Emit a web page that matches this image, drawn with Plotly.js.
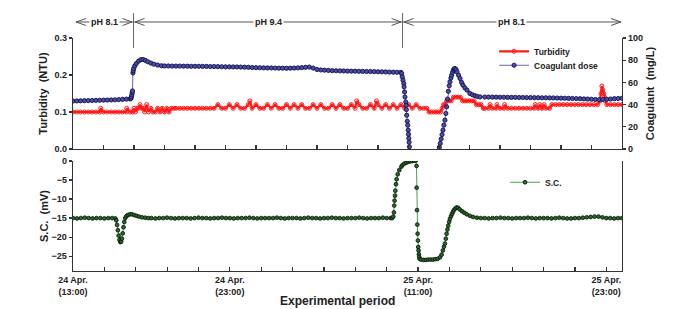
<!DOCTYPE html>
<html><head><meta charset="utf-8">
<script src="https://cdn.plot.ly/plotly-3.0.1.min.js"></script>
<style>html,body{margin:0;padding:0;background:#fff}#chart{width:684px;height:309px}</style>
</head><body><div id="chart"></div>
<script>
// ---- Data (hours since 24 Apr 13:00) ----
// Upper panel time base
const turbTime = [0,0.25,0.5,0.75,1,1.25,1.5,1.75,1.82,2,2.25,2.5,2.75,3,3.25,3.5,3.52,3.75,
  3.9,4.0,4.1,4.2,4.3,4.4,4.5,4.6,4.7,4.83,4.95,5.1,5.25,5.4,5.55,5.7,5.85,6.0,6.15,6.3,6.45,6.6,
  6.75,7,7.25,7.5,7.75,8,8.25,8.5,8.75,9,9.25,
  9.5,9.75,10,10.25,10.5,10.75,11,11.25,11.5,11.6,11.75,12,12.25,12.5,12.75,13,13.25,13.5,13.75,14,14.25,14.5,14.75,15,15.25,15.5,15.75,16,16.25,16.5,16.75,17,17.25,17.5,17.75,18,18.25,18.5,18.6,18.75,19,19.25,19.5,19.75,19.9,20,20.25,20.5,20.75,21,21.25,21.5,21.75,22,22.25,22.5,22.75,23,23.2,
  23.35,23.5,23.65,23.8,23.95,24.1,24.2,24.3,24.4,24.5,24.65,24.8,24.95,25.1,25.25,25.4,25.55,25.7,25.85,26,26.15,26.3,26.45,26.6,26.75,26.9,
  27,27.25,27.35,27.5,27.75,27.8,28,28.25,28.3,28.5,28.75,29,29.25,29.5,29.75,30,30.25,30.3,30.5,30.6,30.75,30.9,31,31.25,
  31.4,31.65,31.9,32.15,32.4,32.65,32.9,33.15,33.4,33.65,33.9,34.15,34.4,34.55,34.62,34.68,34.74,34.8,34.85,34.9,35,35.25,35.5,35.75,36];
const turbidity = [0.10,0.10,0.10,0.10,0.10,0.10,0.10,0.10,0.11,0.10,0.10,0.10,0.10,0.10,0.10,0.10,0.11,0.10,
  0.10,0.11,0.10,0.11,0.11,0.12,0.11,0.11,0.10,0.12,0.10,0.11,0.10,0.10,0.11,0.10,0.11,0.10,0.11,0.10,0.11,0.11,
  0.11,0.11,0.11,0.11,0.11,0.11,0.11,0.11,0.11,0.11,0.11,
  0.12,0.11,0.11,0.12,0.11,0.12,0.11,0.11,0.12,0.13,0.11,0.12,0.11,0.11,0.12,0.11,0.12,0.11,0.11,0.12,0.11,0.12,0.11,0.12,0.11,0.11,0.12,0.11,0.12,0.11,0.11,0.12,0.11,0.12,0.11,0.11,0.12,0.11,0.13,0.12,0.11,0.11,0.12,0.11,0.13,0.12,0.11,0.12,0.11,0.12,0.11,0.12,0.11,0.12,0.11,0.12,0.11,0.11,0.11,
  0.10,0.10,0.10,0.10,0.10,0.10,0.11,0.12,0.12,0.13,0.13,0.13,0.14,0.14,0.14,0.14,0.13,0.13,0.13,0.13,0.13,0.13,0.12,0.12,0.12,0.11,
  0.11,0.11,0.12,0.11,0.11,0.12,0.11,0.11,0.12,0.11,0.11,0.11,0.11,0.11,0.11,0.11,0.11,0.12,0.11,0.12,0.11,0.12,0.11,0.11,
  0.12,0.12,0.12,0.12,0.12,0.12,0.12,0.12,0.12,0.12,0.12,0.12,0.12,0.13,0.15,0.17,0.16,0.15,0.14,0.13,0.12,0.12,0.12,0.12,0.12];

const coagTime = [0,0.25,0.5,0.75,1,1.25,1.5,1.75,2,2.25,2.5,2.75,3,3.25,3.5,3.75,
  3.8,3.83,3.86,3.88,3.9,3.93,3.95,3.98,4.05,4.15,4.3,4.45,4.6,4.75,4.9,5.1,5.3,5.55,5.8,
  6,6.25,6.5,6.75,7,7.25,7.5,7.75,8,8.25,8.5,8.75,9,9.25,9.5,9.75,10,10.25,10.5,10.75,11,11.25,11.5,11.75,12,12.25,12.5,12.75,13,13.25,13.5,13.75,14,14.25,14.5,14.75,15,15.25,15.5,15.75,16,16.25,16.5,16.75,17,17.25,17.5,17.75,18,18.25,18.5,18.75,19,19.25,19.5,19.75,20,20.25,20.5,20.75,21,21.25,21.5,
  21.55,21.59,21.64,21.69,21.71,21.74,21.77,21.82,21.84,21.86,21.88,21.92,21.95,21.98,22.0,22.02,22.04,22.06,22.08,22.12,22.2,23.9,23.97,
  24.02,24.08,24.14,24.2,24.26,24.32,24.39,24.45,24.5,24.56,24.61,24.67,24.72,24.78,24.83,24.89,24.94,25.0,25.05,25.12,25.18,25.28,25.38,25.48,25.57,25.7,25.84,26.03,26.2,26.36,26.5,26.69,
  27,27.25,27.5,27.75,28,28.25,28.5,28.75,29,29.25,29.5,29.75,30,30.25,30.5,30.75,31,31.25,31.5,31.75,32,32.25,32.5,32.75,33,33.25,33.5,33.75,34,34.25,34.5,34.75,35,35.25,35.5,35.75,36];
const coagulantDose = [43.2,43.3,43.4,43.5,43.6,43.7,43.8,43.9,44.0,44.1,44.2,44.3,44.5,44.7,44.9,45.1,
  45.6,47.0,48.8,50.6,52.3,68.5,70.5,72.5,74.8,77.0,79.2,80.5,80.6,79.8,78.6,77.4,76.4,75.6,75.0,
  74.8,74.8,74.7,74.7,74.7,74.6,74.6,74.5,74.5,74.5,74.4,74.4,74.3,74.3,74.2,74.1,74.0,74.0,73.9,73.9,73.8,73.7,73.6,73.4,73.3,73.2,73.1,73.0,73.0,72.9,72.8,72.8,72.7,72.8,72.9,73.1,73.3,73.6,73.8,72.9,71.6,71.2,71.0,70.8,70.6,70.5,70.4,70.3,70.2,70.1,70.1,70.0,69.9,69.8,69.8,69.7,69.6,69.5,69.4,69.3,69.2,69.1,69.0,
  68.0,65.0,62.0,59.0,56.0,51.4,46.8,42.3,39.4,35.5,30.4,25.0,21.4,17.0,13.2,9.6,6.0,2.0,-2,-8,-15,-15,-4,
  1.5,5.0,9.0,13.0,17.0,21.5,26.0,32.0,38.0,45.0,52.0,57.0,60.5,64.0,66.5,69.0,71.0,72.2,72.5,71.5,69.5,66.5,63.5,60.0,57.5,55.0,53.0,50.0,48.8,48.0,47.4,46.9,
  46.8,46.8,46.7,46.7,46.6,46.6,46.5,46.5,46.5,46.4,46.4,46.3,46.3,46.2,46.2,46.1,46.1,46.0,46.0,45.9,45.8,45.7,45.6,45.5,45.4,45.3,45.1,45.0,44.8,44.6,44.5,44.6,44.8,45.0,45.3,45.5,45.7];

// Lower panel time base
const scTime = [0,0.25,0.5,0.75,1,1.25,1.5,1.75,2,2.25,2.5,
  2.7,2.76,2.81,2.86,2.91,2.96,3.02,3.07,3.12,3.17,3.22,3.27,3.33,3.4,3.5,3.62,3.75,3.9,4.05,4.2,4.4,4.6,4.8,
  5,5.25,5.5,5.75,6,6.25,6.5,6.75,7,7.25,7.5,7.75,8,8.25,8.5,8.75,9,9.25,9.5,9.75,10,10.25,10.5,10.75,11,11.25,11.5,11.75,12,12.25,12.5,12.75,13,13.25,13.5,13.75,14,14.25,14.5,14.75,15,15.25,15.5,15.75,16,16.25,16.5,16.75,17,17.25,17.5,17.75,18,18.25,18.5,18.75,19,19.25,19.5,19.75,20,20.25,
  20.35,20.42,20.46,20.48,20.5,20.53,20.55,20.59,20.63,20.7,20.8,20.93,21.0,21.12,21.25,21.38,21.5,21.63,21.75,21.85,
  21.9,21.91,21.93,21.95,21.97,21.99,22.01,22.03,22.05,22.07,22.1,22.2,22.35,22.5,22.65,22.8,22.95,23.1,23.25,23.4,23.5,23.58,23.65,23.71,23.77,23.82,23.87,23.92,23.98,24.03,24.1,24.16,24.22,24.28,24.37,24.46,24.55,24.65,24.8,24.95,25.1,25.3,25.5,25.75,26.0,
  26.25,26.5,26.75,27,27.25,27.5,27.75,28,28.25,28.5,28.75,29,29.25,29.5,29.75,30,30.25,30.5,30.75,31,31.25,31.5,31.75,32,32.25,32.5,32.75,33,33.25,33.5,33.75,34,34.25,34.5,34.75,35];
const streamingCurrent = [-15.0,-15.1,-15.0,-14.9,-15.0,-15.1,-15.0,-15.0,-15.1,-15.0,-15.0,
  -15.1,-15.6,-16.8,-18.2,-19.6,-20.7,-21.3,-21.2,-20.4,-19.0,-17.4,-16.0,-15.0,-14.5,-14.2,-14.0,-14.0,-14.2,-14.4,-14.6,-14.8,-14.9,-15.0,
  -15.0,-15.1,-15.0,-15.0,-14.9,-15.0,-15.1,-15.0,-15.0,-15.0,-15.1,-15.0,-14.9,-15.0,-15.0,-15.1,-15.0,-15.0,-14.9,-15.0,-15.0,-15.1,-15.0,-15.0,-15.0,-14.9,-15.0,-15.1,-15.0,-15.0,-15.0,-15.0,-14.9,-15.0,-15.1,-15.0,-15.0,-15.0,-15.1,-15.0,-14.9,-15.0,-15.0,-15.1,-15.0,-15.0,-14.9,-15.0,-15.0,-15.1,-15.0,-15.0,-15.0,-14.9,-15.0,-15.1,-15.0,-15.0,-15.0,-14.9,-15.0,-15.0,
  -15.0,-14.6,-13.5,-11.7,-10.4,-9.1,-7.8,-6.1,-4.8,-3.5,-2.4,-1.5,-1.1,-0.7,-0.45,-0.2,-0.1,0.0,0.1,0.1,
  -1.3,-7.0,-12.9,-16.7,-19.1,-20.9,-22.6,-23.5,-24.5,-25.2,-25.7,-25.9,-26.0,-26.0,-25.9,-25.9,-25.9,-25.8,-25.7,-25.3,-24.6,-23.5,-22.5,-21.7,-20.4,-19.1,-18.0,-17.0,-16.0,-15.2,-14.5,-13.9,-13.4,-12.9,-12.5,-12.2,-12.3,-12.7,-13.2,-13.6,-14.0,-14.4,-14.7,-14.9,-15.0,
  -15.0,-15.1,-15.0,-15.0,-14.9,-15.0,-15.0,-15.1,-15.0,-15.0,-15.0,-14.9,-15.0,-15.1,-15.0,-15.0,-15.0,-15.1,-15.0,-14.9,-15.0,-15.1,-15.1,-15.0,-15.0,-14.9,-14.8,-14.7,-14.6,-14.6,-14.8,-15.0,-15.0,-15.1,-15.0,-15.0];

// Tick labels (lower time axis) and pH periods (upper time axis)
const tickLabelHours = [0, 10, 22, 34];
const tickLabels = ['24 Apr.<br>(13:00)', '24 Apr.<br>(23:00)', '25 Apr.<br>(11:00)', '25 Apr.<br>(23:00)'];
const phBoundaries = [3.97, 21.61];
const phLabels = ['pH 8.1', 'pH 9.4', 'pH 8.1'];

// ---- Layout helpers ----
const FONT = 'Liberation Sans, Arial, sans-serif';
const TXT = '#222';
const lowerRange = [0, 35], upperRange = [0, 36];
const tickVals = []; const tickText = [];
for (let h = 0; h <= 34; h += 2) { tickVals.push(h); const k = tickLabelHours.indexOf(h); tickText.push(k >= 0 ? tickLabels[k] : ''); }
const upperTicks = []; for (let h = 0; h <= 36; h += 2) upperTicks.push(h);

const traces = [
  {x: turbTime, y: turbidity, xaxis: 'x2', yaxis: 'y', name: 'Turbidity', legend: 'legend',
   mode: 'lines+markers', line: {color: '#ff1a1a', width: 2.2},
   marker: {symbol: 'circle-open', size: 4, color: '#ff1a1a', line: {width: 1}}},
  {x: coagTime, y: coagulantDose, xaxis: 'x2', yaxis: 'y3', name: 'Coagulant dose', legend: 'legend2',
   mode: 'lines+markers', line: {color: '#6a6aa6', width: 1},
   marker: {symbol: 'circle', size: 4.2, color: '#50528c', line: {color: '#0b0b6a', width: 0.9}}},
  {x: scTime, y: streamingCurrent, xaxis: 'x', yaxis: 'y2', name: 'S.C.', legend: 'legend3',
   mode: 'lines+markers', line: {color: '#4f9f4f', width: 1},
   marker: {symbol: 'circle', size: 3.8, color: '#266a26', line: {color: '#061006', width: 0.8}}}
];

const axisCommon = {showline: true, linecolor: '#333', linewidth: 1.3, showgrid: false, zeroline: false,
  tickfont: {family: FONT, size: 9, color: TXT, weight: 'bold'}, tickcolor: '#333', ticklen: 3, tickwidth: 1.2};
const titleFont = {family: FONT, size: 11, color: TXT, weight: 'bold'};

// pH header decorations
const yLine = 1.0687, yTop = 1.107, yBot = 0.957;
const shapes = [];
const annotations = [];
shapes.push({type: 'line', xref: 'x2', yref: 'paper', x0: 0.2, x1: 35.93, y0: yLine, y1: yLine, line: {color: '#555', width: 1}});
phBoundaries.forEach(b => {
  shapes.push({type: 'line', xref: 'x2', yref: 'paper', x0: b, x1: b, y0: yBot, y1: yTop, line: {color: '#666', width: 1}});
  shapes.push({type: 'path', xref: 'x2', yref: 'paper', xsizemode: 'pixel', ysizemode: 'pixel', xanchor: b, yanchor: yLine,
    path: 'M-11,3.5 L-1.5,0 L-11,-3.5', line: {color: '#555', width: 1}});
  shapes.push({type: 'path', xref: 'x2', yref: 'paper', xsizemode: 'pixel', ysizemode: 'pixel', xanchor: b, yanchor: yLine,
    path: 'M11,3.5 L1.5,0 L11,-3.5', line: {color: '#555', width: 1}});
});
shapes.push({type: 'path', xref: 'x2', yref: 'paper', xsizemode: 'pixel', ysizemode: 'pixel', xanchor: 0.2, yanchor: yLine,
  path: 'M10,3.5 L0,0 L10,-3.5', line: {color: '#555', width: 1}});
shapes.push({type: 'path', xref: 'x2', yref: 'paper', xsizemode: 'pixel', ysizemode: 'pixel', xanchor: 35.93, yanchor: yLine,
  path: 'M-10,3.5 L0,0 L-10,-3.5', line: {color: '#555', width: 1}});
const edges = [0.2].concat(phBoundaries, [35.93]);
phLabels.forEach((t, i) => {
  annotations.push({xref: 'x2', yref: 'paper', x: (edges[i] + edges[i + 1]) / 2, y: yLine, text: t, showarrow: false,
    bgcolor: '#fff', borderpad: 1, font: {family: FONT, size: 9, color: TXT, weight: 'bold'}, xanchor: 'center', yanchor: 'middle'});
});
annotations.push({xref: 'paper', yref: 'paper', x: 0.481, y: -0.161, xanchor: 'center', yanchor: 'bottom', showarrow: false,
  borderpad: 0, text: 'Experimental period', font: {family: FONT, size: 12, color: TXT, weight: 'bold'}});

const legendCommon = {bgcolor: 'rgba(0,0,0,0)', font: {family: FONT, size: 8.5, color: TXT, weight: 'bold'},
  xanchor: 'left', yanchor: 'middle', itemwidth: 30, tracegroupgap: 0};

const layout = {
  width: 684, height: 309, margin: {l: 73, r: 62, t: 38, b: 38},
  paper_bgcolor: '#fff', plot_bgcolor: '#fff', showlegend: true,
  font: {family: FONT, color: TXT},
  xaxis: Object.assign({}, axisCommon, {domain: [0, 1], anchor: 'y2', range: lowerRange, tickmode: 'array',
    tickvals: tickVals, ticktext: tickText, ticks: 'inside', ticklen: 4}),
  yaxis2: Object.assign({}, axisCommon, {domain: [0, 0.4721], anchor: 'x', range: [-28.9, 0], tickmode: 'array',
    tickvals: [0, -5, -10, -15, -20, -25], ticks: 'outside', mirror: true,
    title: {text: 'S.C.\u00a0\u00a0(mV)', font: titleFont, standoff: 0}}),
  xaxis2: Object.assign({}, axisCommon, {domain: [0, 1], anchor: 'y', range: upperRange, tickmode: 'array',
    tickvals: upperTicks, showticklabels: false, ticks: 'inside', ticklen: 4}),
  yaxis: Object.assign({}, axisCommon, {domain: [0.5236, 1], anchor: 'x2', range: [0, 0.3], tickmode: 'array',
    tickvals: [0, 0.1, 0.2, 0.3], tickformat: '.1f', ticks: 'outside',
    title: {text: 'Turbidity\u00a0\u00a0(NTU)', font: titleFont, standoff: 4}}),
  yaxis3: Object.assign({}, axisCommon, {overlaying: 'y', side: 'right', anchor: 'x2', range: [0, 100], tickmode: 'array',
    tickvals: [0, 20, 40, 60, 80, 100], ticks: 'outside',
    title: {text: 'Coagulant\u00a0\u00a0(mg/L)', font: titleFont, standoff: 4}}),
  legend: Object.assign({}, legendCommon, {x: 0.767, y: 0.943}),
  legend2: Object.assign({}, legendCommon, {x: 0.767, y: 0.883}),
  legend3: Object.assign({}, legendCommon, {x: 0.787, y: 0.381}),
  shapes: shapes, annotations: annotations
};

Plotly.newPlot('chart', traces, layout, {displayModeBar: false, staticPlot: true});
</script></body></html>
